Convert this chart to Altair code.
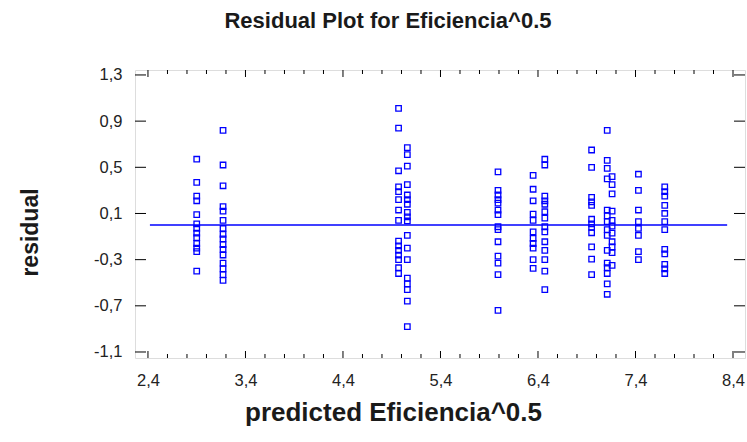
import altair as alt
import pandas as pd

# Predicted values (one column of residuals per fitted level)
predicted = [2.90, 3.17, 4.97, 5.06, 5.99, 6.35, 6.47, 6.95, 7.11, 7.16, 7.43, 7.70]

residuals = [
    [0.57, 0.37, 0.25, 0.21, 0.09, 0.01, -0.03, -0.07, -0.11, -0.16, -0.20, -0.23, -0.40],
    [0.82, 0.52, 0.34, 0.16, 0.12, 0.04, -0.03, -0.08, -0.12, -0.17, -0.21, -0.26, -0.33, -0.38, -0.43, -0.48],
    [1.01, 0.84, 0.47, 0.33, 0.29, 0.22, 0.13, 0.04, -0.14, -0.18, -0.22, -0.26, -0.30, -0.37, -0.42],
    [0.67, 0.61, 0.51, 0.35, 0.26, 0.22, 0.18, 0.11, 0.07, 0.035, -0.09, -0.20, -0.30, -0.46, -0.51, -0.56, -0.66, -0.88],
    [0.46, 0.30, 0.26, 0.22, 0.19, 0.13, 0.09, -0.015, -0.04, -0.145, -0.27, -0.33, -0.43, -0.74],
    [0.43, 0.31, 0.21, 0.095, 0.04, -0.06, -0.115, -0.16, -0.20, -0.30, -0.375],
    [0.57, 0.52, 0.25, 0.21, 0.18, 0.115, 0.06, -0.015, -0.06, -0.145, -0.22, -0.30, -0.40, -0.56],
    [0.65, 0.50, 0.24, 0.20, 0.17, 0.05, 0.01, -0.02, -0.067, -0.19, -0.295, -0.43],
    [0.82, 0.56, 0.49, 0.40, 0.13, 0.08, 0.03, -0.04, -0.09, -0.22, -0.33, -0.37, -0.42, -0.51, -0.60],
    [0.42, 0.35, 0.27, 0.12, 0.04, -0.01, -0.07, -0.145, -0.19, -0.24, -0.35],
    [0.44, 0.30, 0.13, 0.03, -0.03, -0.09, -0.23, -0.30],
    [0.33, 0.29, 0.25, 0.17, 0.10, 0.03, -0.04, -0.21, -0.25, -0.34, -0.38, -0.42],
]

# Zero reference line span
zero_line_x = [2.42, 8.34]

# Axis tick values
x_major = [2.4, 3.4, 4.4, 5.4, 6.4, 7.4, 8.4]
x_minor = [round(2.4 + 0.2 * i, 1) for i in range(31) if i % 5 != 0]
y_major = [1.3, 0.9, 0.5, 0.1, -0.3, -0.7, -1.1]

X_DOMAIN = [2.267, 8.523]
Y_DOMAIN = [-1.152, 1.343]
W, H = 610, 288
FONT = "Liberation Sans"
BLUE = "#0000FF"

points = pd.DataFrame(
    [{"pred": p, "resid": r} for p, col in zip(predicted, residuals) for r in col]
)
zero_df = pd.DataFrame({"pred": zero_line_x, "resid": [0.0, 0.0]})
xmaj_df = pd.DataFrame({"v": x_major})
xmin_df = pd.DataFrame({"v": x_minor})
ymaj_df = pd.DataFrame({"v": y_major})

label_expr = "replace(replace(format(datum.value, '.1f'), '.', ','), '\u2212', '-')"

x_scale = alt.Scale(domain=X_DOMAIN, nice=False, zero=False)
y_scale = alt.Scale(domain=Y_DOMAIN, nice=False, zero=False)

x_axis = alt.Axis(
    values=x_major, labelExpr=label_expr, ticks=False, domain=False, grid=False,
    labelFont=FONT, labelFontSize=16.5, labelColor="#222222", labelPadding=14,
    title="predicted Eficiencia^0.5", titleFont=FONT, titleFontSize=26,
    titleFontWeight="bold", titleColor="#1a1a1a",
    titleX=258, titleY=54, titleBaseline="middle", titleAnchor="middle",
)
y_axis = alt.Axis(
    values=y_major, labelExpr=label_expr, ticks=False, domain=False, grid=False,
    labelFont=FONT, labelFontSize=16.5, labelColor="#222222", labelPadding=13,
    title="residual", titleFont=FONT, titleFontSize=23,
    titleFontWeight="bold", titleColor="#1a1a1a",
    titleX=-105, titleY=162, titleBaseline="middle", titleAngle=-90,
)

scatter = alt.Chart(points).mark_point(
    shape="square", filled=False, color=BLUE, size=30, strokeWidth=1.3, opacity=1
).encode(
    x=alt.X("pred:Q", scale=x_scale, axis=x_axis),
    y=alt.Y("resid:Q", scale=y_scale, axis=y_axis),
)

zero_rule = alt.Chart(zero_df).mark_line(color=BLUE, strokeWidth=1.5).encode(
    x=alt.X("pred:Q", scale=x_scale), y=alt.Y("resid:Q", scale=y_scale)
)

# Inward tick marks on all four sides of the frame
def xticks(df, length):
    base = alt.Chart(df).mark_rule(color="#000000", strokeWidth=1)
    bottom = base.encode(x=alt.X("v:Q", scale=x_scale), y=alt.value(H), y2=alt.value(H - length))
    top = base.encode(x=alt.X("v:Q", scale=x_scale), y=alt.value(0), y2=alt.value(length))
    return [bottom, top]

def yticks(df, length):
    base = alt.Chart(df).mark_rule(color="#000000", strokeWidth=1)
    left = base.encode(y=alt.Y("v:Q", scale=y_scale), x=alt.value(0), x2=alt.value(length))
    right = base.encode(y=alt.Y("v:Q", scale=y_scale), x=alt.value(W), x2=alt.value(W - length))
    return [left, right]

layers = [scatter, zero_rule] + xticks(xmaj_df, 7) + xticks(xmin_df, 4) + yticks(ymaj_df, 11)

chart = alt.layer(*layers).properties(
    width=W, height=H,
    padding={"left": 135, "top": 70, "right": 2, "bottom": 84},
    autosize="none",
    title=alt.Title(
        "Residual Plot for Eficiencia^0.5", font=FONT, fontSize=22, fontWeight="bold",
        color="#1a1a1a", anchor="middle", dx=-52, offset=34,
    ),
).configure_view(stroke="#000000", strokeWidth=1.2).configure(background="white")

chart.save("out.html", embed_options={"renderer": "svg", "actions": False})
